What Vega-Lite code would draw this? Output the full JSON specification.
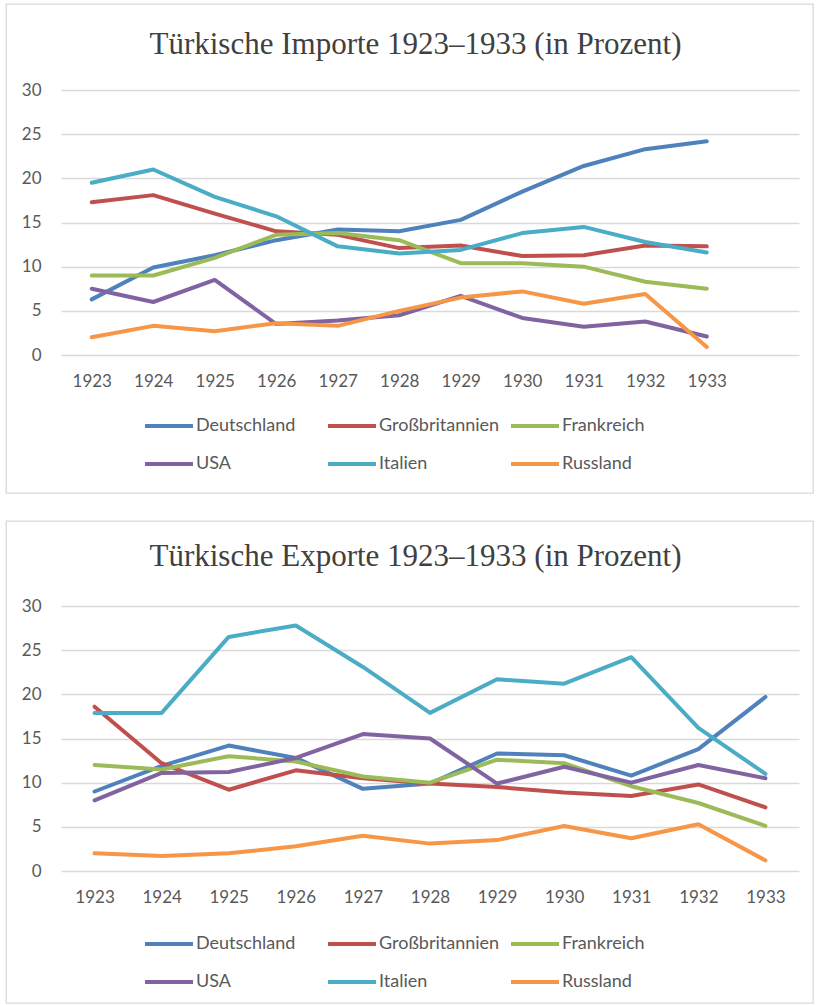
{
  "$schema": "https://vega.github.io/schema/vega-lite/v6.json",
  "padding": {"left": 5, "top": 3, "right": 0, "bottom": 0},
  "background": "white",
  "spacing": 26,
  "config": {
    "view": {"stroke": "#d9d9d9", "strokeWidth": 1.3},
    "font": "Lato"
  },
  "datasets": {
    "importe": [
      {"Jahr": "1923", "Land": "Deutschland", "Anteil": 6.3},
      {"Jahr": "1924", "Land": "Deutschland", "Anteil": 9.9},
      {"Jahr": "1925", "Land": "Deutschland", "Anteil": 11.3},
      {"Jahr": "1926", "Land": "Deutschland", "Anteil": 13.0},
      {"Jahr": "1927", "Land": "Deutschland", "Anteil": 14.2},
      {"Jahr": "1928", "Land": "Deutschland", "Anteil": 14.0},
      {"Jahr": "1929", "Land": "Deutschland", "Anteil": 15.3},
      {"Jahr": "1930", "Land": "Deutschland", "Anteil": 18.5},
      {"Jahr": "1931", "Land": "Deutschland", "Anteil": 21.4},
      {"Jahr": "1932", "Land": "Deutschland", "Anteil": 23.3},
      {"Jahr": "1933", "Land": "Deutschland", "Anteil": 24.2},
      {"Jahr": "1923", "Land": "Großbritannien", "Anteil": 17.3},
      {"Jahr": "1924", "Land": "Großbritannien", "Anteil": 18.1},
      {"Jahr": "1925", "Land": "Großbritannien", "Anteil": 16.0},
      {"Jahr": "1926", "Land": "Großbritannien", "Anteil": 14.0},
      {"Jahr": "1927", "Land": "Großbritannien", "Anteil": 13.6},
      {"Jahr": "1928", "Land": "Großbritannien", "Anteil": 12.1},
      {"Jahr": "1929", "Land": "Großbritannien", "Anteil": 12.4},
      {"Jahr": "1930", "Land": "Großbritannien", "Anteil": 11.2},
      {"Jahr": "1931", "Land": "Großbritannien", "Anteil": 11.3},
      {"Jahr": "1932", "Land": "Großbritannien", "Anteil": 12.4},
      {"Jahr": "1933", "Land": "Großbritannien", "Anteil": 12.3},
      {"Jahr": "1923", "Land": "Frankreich", "Anteil": 9.0},
      {"Jahr": "1924", "Land": "Frankreich", "Anteil": 9.0},
      {"Jahr": "1925", "Land": "Frankreich", "Anteil": 11.0},
      {"Jahr": "1926", "Land": "Frankreich", "Anteil": 13.6},
      {"Jahr": "1927", "Land": "Frankreich", "Anteil": 13.8},
      {"Jahr": "1928", "Land": "Frankreich", "Anteil": 13.0},
      {"Jahr": "1929", "Land": "Frankreich", "Anteil": 10.4},
      {"Jahr": "1930", "Land": "Frankreich", "Anteil": 10.4},
      {"Jahr": "1931", "Land": "Frankreich", "Anteil": 10.0},
      {"Jahr": "1932", "Land": "Frankreich", "Anteil": 8.3},
      {"Jahr": "1933", "Land": "Frankreich", "Anteil": 7.5},
      {"Jahr": "1923", "Land": "USA", "Anteil": 7.5},
      {"Jahr": "1924", "Land": "USA", "Anteil": 6.0},
      {"Jahr": "1925", "Land": "USA", "Anteil": 8.5},
      {"Jahr": "1926", "Land": "USA", "Anteil": 3.5},
      {"Jahr": "1927", "Land": "USA", "Anteil": 3.9},
      {"Jahr": "1928", "Land": "USA", "Anteil": 4.5},
      {"Jahr": "1929", "Land": "USA", "Anteil": 6.7},
      {"Jahr": "1930", "Land": "USA", "Anteil": 4.2},
      {"Jahr": "1931", "Land": "USA", "Anteil": 3.2},
      {"Jahr": "1932", "Land": "USA", "Anteil": 3.8},
      {"Jahr": "1933", "Land": "USA", "Anteil": 2.1},
      {"Jahr": "1923", "Land": "Italien", "Anteil": 19.5},
      {"Jahr": "1924", "Land": "Italien", "Anteil": 21.0},
      {"Jahr": "1925", "Land": "Italien", "Anteil": 17.9},
      {"Jahr": "1926", "Land": "Italien", "Anteil": 15.7},
      {"Jahr": "1927", "Land": "Italien", "Anteil": 12.3},
      {"Jahr": "1928", "Land": "Italien", "Anteil": 11.5},
      {"Jahr": "1929", "Land": "Italien", "Anteil": 11.9},
      {"Jahr": "1930", "Land": "Italien", "Anteil": 13.8},
      {"Jahr": "1931", "Land": "Italien", "Anteil": 14.5},
      {"Jahr": "1932", "Land": "Italien", "Anteil": 12.8},
      {"Jahr": "1933", "Land": "Italien", "Anteil": 11.6},
      {"Jahr": "1923", "Land": "Russland", "Anteil": 2.0},
      {"Jahr": "1924", "Land": "Russland", "Anteil": 3.3},
      {"Jahr": "1925", "Land": "Russland", "Anteil": 2.7},
      {"Jahr": "1926", "Land": "Russland", "Anteil": 3.6},
      {"Jahr": "1927", "Land": "Russland", "Anteil": 3.3},
      {"Jahr": "1928", "Land": "Russland", "Anteil": 5.0},
      {"Jahr": "1929", "Land": "Russland", "Anteil": 6.5},
      {"Jahr": "1930", "Land": "Russland", "Anteil": 7.2},
      {"Jahr": "1931", "Land": "Russland", "Anteil": 5.8},
      {"Jahr": "1932", "Land": "Russland", "Anteil": 6.9},
      {"Jahr": "1933", "Land": "Russland", "Anteil": 0.9}
    ],
    "exporte": [
      {"Jahr": "1923", "Land": "Deutschland", "Anteil": 9.0},
      {"Jahr": "1924", "Land": "Deutschland", "Anteil": 11.9},
      {"Jahr": "1925", "Land": "Deutschland", "Anteil": 14.2},
      {"Jahr": "1926", "Land": "Deutschland", "Anteil": 12.8},
      {"Jahr": "1927", "Land": "Deutschland", "Anteil": 9.3},
      {"Jahr": "1928", "Land": "Deutschland", "Anteil": 9.9},
      {"Jahr": "1929", "Land": "Deutschland", "Anteil": 13.3},
      {"Jahr": "1930", "Land": "Deutschland", "Anteil": 13.1},
      {"Jahr": "1931", "Land": "Deutschland", "Anteil": 10.8},
      {"Jahr": "1932", "Land": "Deutschland", "Anteil": 13.8},
      {"Jahr": "1933", "Land": "Deutschland", "Anteil": 19.7},
      {"Jahr": "1923", "Land": "Großbritannien", "Anteil": 18.6},
      {"Jahr": "1924", "Land": "Großbritannien", "Anteil": 12.2},
      {"Jahr": "1925", "Land": "Großbritannien", "Anteil": 9.2},
      {"Jahr": "1926", "Land": "Großbritannien", "Anteil": 11.4},
      {"Jahr": "1927", "Land": "Großbritannien", "Anteil": 10.5},
      {"Jahr": "1928", "Land": "Großbritannien", "Anteil": 9.9},
      {"Jahr": "1929", "Land": "Großbritannien", "Anteil": 9.5},
      {"Jahr": "1930", "Land": "Großbritannien", "Anteil": 8.9},
      {"Jahr": "1931", "Land": "Großbritannien", "Anteil": 8.5},
      {"Jahr": "1932", "Land": "Großbritannien", "Anteil": 9.8},
      {"Jahr": "1933", "Land": "Großbritannien", "Anteil": 7.2},
      {"Jahr": "1923", "Land": "Frankreich", "Anteil": 12.0},
      {"Jahr": "1924", "Land": "Frankreich", "Anteil": 11.5},
      {"Jahr": "1925", "Land": "Frankreich", "Anteil": 13.0},
      {"Jahr": "1926", "Land": "Frankreich", "Anteil": 12.4},
      {"Jahr": "1927", "Land": "Frankreich", "Anteil": 10.7},
      {"Jahr": "1928", "Land": "Frankreich", "Anteil": 10.0},
      {"Jahr": "1929", "Land": "Frankreich", "Anteil": 12.6},
      {"Jahr": "1930", "Land": "Frankreich", "Anteil": 12.2},
      {"Jahr": "1931", "Land": "Frankreich", "Anteil": 9.6},
      {"Jahr": "1932", "Land": "Frankreich", "Anteil": 7.7},
      {"Jahr": "1933", "Land": "Frankreich", "Anteil": 5.1},
      {"Jahr": "1923", "Land": "USA", "Anteil": 8.0},
      {"Jahr": "1924", "Land": "USA", "Anteil": 11.1},
      {"Jahr": "1925", "Land": "USA", "Anteil": 11.2},
      {"Jahr": "1926", "Land": "USA", "Anteil": 12.8},
      {"Jahr": "1927", "Land": "USA", "Anteil": 15.5},
      {"Jahr": "1928", "Land": "USA", "Anteil": 15.0},
      {"Jahr": "1929", "Land": "USA", "Anteil": 9.9},
      {"Jahr": "1930", "Land": "USA", "Anteil": 11.8},
      {"Jahr": "1931", "Land": "USA", "Anteil": 10.0},
      {"Jahr": "1932", "Land": "USA", "Anteil": 12.0},
      {"Jahr": "1933", "Land": "USA", "Anteil": 10.5},
      {"Jahr": "1923", "Land": "Italien", "Anteil": 17.9},
      {"Jahr": "1924", "Land": "Italien", "Anteil": 17.9},
      {"Jahr": "1925", "Land": "Italien", "Anteil": 26.5},
      {"Jahr": "1926", "Land": "Italien", "Anteil": 27.8},
      {"Jahr": "1927", "Land": "Italien", "Anteil": 23.1},
      {"Jahr": "1928", "Land": "Italien", "Anteil": 17.9},
      {"Jahr": "1929", "Land": "Italien", "Anteil": 21.7},
      {"Jahr": "1930", "Land": "Italien", "Anteil": 21.2},
      {"Jahr": "1931", "Land": "Italien", "Anteil": 24.2},
      {"Jahr": "1932", "Land": "Italien", "Anteil": 16.2},
      {"Jahr": "1933", "Land": "Italien", "Anteil": 11.0},
      {"Jahr": "1923", "Land": "Russland", "Anteil": 2.0},
      {"Jahr": "1924", "Land": "Russland", "Anteil": 1.7},
      {"Jahr": "1925", "Land": "Russland", "Anteil": 2.0},
      {"Jahr": "1926", "Land": "Russland", "Anteil": 2.8},
      {"Jahr": "1927", "Land": "Russland", "Anteil": 4.0},
      {"Jahr": "1928", "Land": "Russland", "Anteil": 3.1},
      {"Jahr": "1929", "Land": "Russland", "Anteil": 3.5},
      {"Jahr": "1930", "Land": "Russland", "Anteil": 5.1},
      {"Jahr": "1931", "Land": "Russland", "Anteil": 3.7},
      {"Jahr": "1932", "Land": "Russland", "Anteil": 5.3},
      {"Jahr": "1933", "Land": "Russland", "Anteil": 1.2}
    ]
  },
  "vconcat": [
    {
      "width": 807,
      "height": 489,
      "title": {"text": "Türkische Importe 1923–1933 (in Prozent)", "font": "Liberation Serif", "fontSize": 31, "fontWeight": "normal", "color": "#404040", "anchor": "middle", "offset": -57, "dx": 6},
      "data": {"name": "importe"},
      "mark": {"type": "line", "strokeWidth": 4, "strokeCap": "round", "strokeJoin": "round"},
      "encoding": {
        "x": {
          "field": "Jahr", "type": "ordinal",
          "scale": {"type": "point", "domain": ["1923","1924","1925","1926","1927","1928","1929","1930","1931","1932","1933"," "], "range": [55, 793], "padding": 0.5},
          "axis": {"orient": "bottom", "offset": -138, "domain": false, "ticks": false, "tickSize": 0, "grid": false, "title": null, "labelAngle": 0, "labelFont": "Lato", "labelFontSize": 17, "labelColor": "#595959", "labelPadding": 18}
        },
        "y": {
          "field": "Anteil", "type": "quantitative",
          "scale": {"domain": [0, 30], "range": [351, 86], "nice": false},
          "axis": {"orient": "left", "offset": -55, "values": [0, 5, 10, 15, 20, 25, 30], "domain": false, "ticks": false, "tickSize": 0, "grid": true, "gridColor": "#d9d9d9", "gridWidth": 1.5, "title": null, "labelFont": "Lato", "labelFontSize": 17, "labelColor": "#595959", "labelPadding": 20}
        },
        "color": {
          "field": "Land", "type": "nominal",
          "scale": {"domain": ["Deutschland","Großbritannien","Frankreich","USA","Italien","Russland"], "range": ["#4F81BD","#C0504D","#9BBB59","#8064A2","#4BACC6","#F79646"]},
          "legend": {"orient": "none", "legendX": 137, "legendY": 396, "columns": 3, "direction": "horizontal", "title": null, "symbolType": "stroke", "symbolSize": 2304, "symbolStrokeWidth": 4, "labelFont": "Lato", "labelFontSize": 18, "labelColor": "#595959", "labelOffset": 1, "gridAlign": "all", "columnPadding": 3, "rowPadding": 3}
        }
      }
    },
    {
      "width": 807,
      "height": 482,
      "title": {"text": "Türkische Exporte 1923–1933 (in Prozent)", "font": "Liberation Serif", "fontSize": 31, "fontWeight": "normal", "color": "#404040", "anchor": "middle", "offset": -52, "dx": 6},
      "data": {"name": "exporte"},
      "mark": {"type": "line", "strokeWidth": 4, "strokeCap": "round", "strokeJoin": "round"},
      "encoding": {
        "x": {
          "field": "Jahr", "type": "ordinal",
          "scale": {"type": "point", "domain": ["1923","1924","1925","1926","1927","1928","1929","1930","1931","1932","1933"], "range": [55, 793], "padding": 0.5},
          "axis": {"orient": "bottom", "offset": -132, "domain": false, "ticks": false, "tickSize": 0, "grid": false, "title": null, "labelAngle": 0, "labelFont": "Lato", "labelFontSize": 17, "labelColor": "#595959", "labelPadding": 18}
        },
        "y": {
          "field": "Anteil", "type": "quantitative",
          "scale": {"domain": [0, 30], "range": [350, 85], "nice": false},
          "axis": {"orient": "left", "offset": -55, "values": [0, 5, 10, 15, 20, 25, 30], "domain": false, "ticks": false, "tickSize": 0, "grid": true, "gridColor": "#d9d9d9", "gridWidth": 1.5, "title": null, "labelFont": "Lato", "labelFontSize": 17, "labelColor": "#595959", "labelPadding": 20}
        },
        "color": {
          "field": "Land", "type": "nominal",
          "scale": {"domain": ["Deutschland","Großbritannien","Frankreich","USA","Italien","Russland"], "range": ["#4F81BD","#C0504D","#9BBB59","#8064A2","#4BACC6","#F79646"]},
          "legend": {"orient": "none", "legendX": 137, "legendY": 397, "columns": 3, "direction": "horizontal", "title": null, "symbolType": "stroke", "symbolSize": 2304, "symbolStrokeWidth": 4, "labelFont": "Lato", "labelFontSize": 18, "labelColor": "#595959", "labelOffset": 1, "gridAlign": "all", "columnPadding": 3, "rowPadding": 3}
        }
      }
    }
  ],
  "resolve": {
    "scale": {"x": "independent", "y": "independent", "color": "independent"},
    "axis": {"x": "independent", "y": "independent"},
    "legend": {"color": "independent"}
  }
}
